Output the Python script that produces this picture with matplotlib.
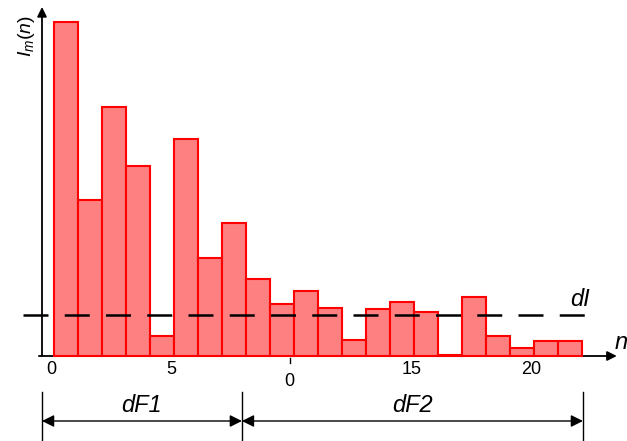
import matplotlib.pyplot as plt
import numpy as np

plt.rcParams['mathtext.fontset'] = 'custom'
plt.rcParams['mathtext.it'] = 'Liberation Sans:italic'
plt.rcParams['mathtext.rm'] = 'Liberation Sans'

# bar heights I_m(n), arbitrary units
n_vals = np.arange(22)
heights = [33.4, 15.6, 24.9, 19.0, 2.0, 21.7, 9.8, 13.3, 7.7, 5.2, 6.5,
           4.8, 1.6, 4.7, 5.4, 4.4, 0.1, 5.9, 2.0, 0.8, 1.5, 1.5]
dI_level = 4.1
tick_vals = [0, 5, 10, 15, 20]
tick_labels = ['0', '5', '0', '15', '20']
dF_bounds = [-0.5, 7.83, 22.04]
dF_labels = ['dF1', 'dF2']

fig = plt.figure(figsize=(6.27, 4.41), dpi=100)
ax = fig.add_axes([0, 0, 1, 1])
ax.set_xlim(-2.25, 23.875)
ax.set_ylim(-8.5, 35.6)
ax.axis('off')

ax.bar(n_vals, heights, width=1.0, align='edge', color='#ff8080',
       edgecolor='#ff0000', linewidth=1.5, zorder=2)

# axes with arrows
ax.annotate('', xy=(-0.5, 34.9), xytext=(-0.5, 0),
            arrowprops=dict(arrowstyle='-|>', color='black', lw=1.3,
                            mutation_scale=14, shrinkA=0, shrinkB=0), zorder=3)
ax.annotate('', xy=(23.45, 0), xytext=(-0.63, 0),
            arrowprops=dict(arrowstyle='-|>', color='black', lw=1.3,
                            mutation_scale=14, shrinkA=0, shrinkB=0), zorder=1)
ax.text(23.62, 0.2, 'n', fontsize=17, style='italic', ha='center', va='bottom',
        family='Liberation Sans')
ax.text(-1.13, 32.0, r'$\mathit{I_m(n)}$', fontsize=14, rotation=90,
        ha='center', va='center')

# tick labels
for v, lab in zip(tick_vals, tick_labels):
    if v == 10:
        ax.plot([v - 0.18, v - 0.18], [-0.2, -0.7], color='black', lw=1)
        ax.text(v - 0.2, -2.6, lab, fontsize=13, ha='center', va='center',
                family='Liberation Sans')
    else:
        ax.text(v - 0.1, -1.4, lab, fontsize=13, ha='center', va='center',
                family='Liberation Sans')

# threshold line
ax.plot([-1.29, 22.2], [dI_level, dI_level], color='black', lw=1.8,
        dashes=(10, 6.5), zorder=4)
ax.text(21.9, 5.6, 'dI', fontsize=17, style='italic', ha='center',
        va='center', family='Liberation Sans')

# dimension lines below
for b in dF_bounds:
    ax.plot([b, b], [-3.6, -8.4], color='black', lw=1)
for i, lab in enumerate(dF_labels):
    a, b = dF_bounds[i], dF_bounds[i + 1]
    ax.annotate('', xy=(b, -6.5), xytext=(a, -6.5),
                arrowprops=dict(arrowstyle='<|-|>', color='black', lw=1,
                                mutation_scale=18, shrinkA=0, shrinkB=0))
    ax.text((a + b) / 2, -4.9, lab, fontsize=17, style='italic', ha='center',
            va='center', family='Liberation Sans')

fig.savefig('out.png', dpi=100)
